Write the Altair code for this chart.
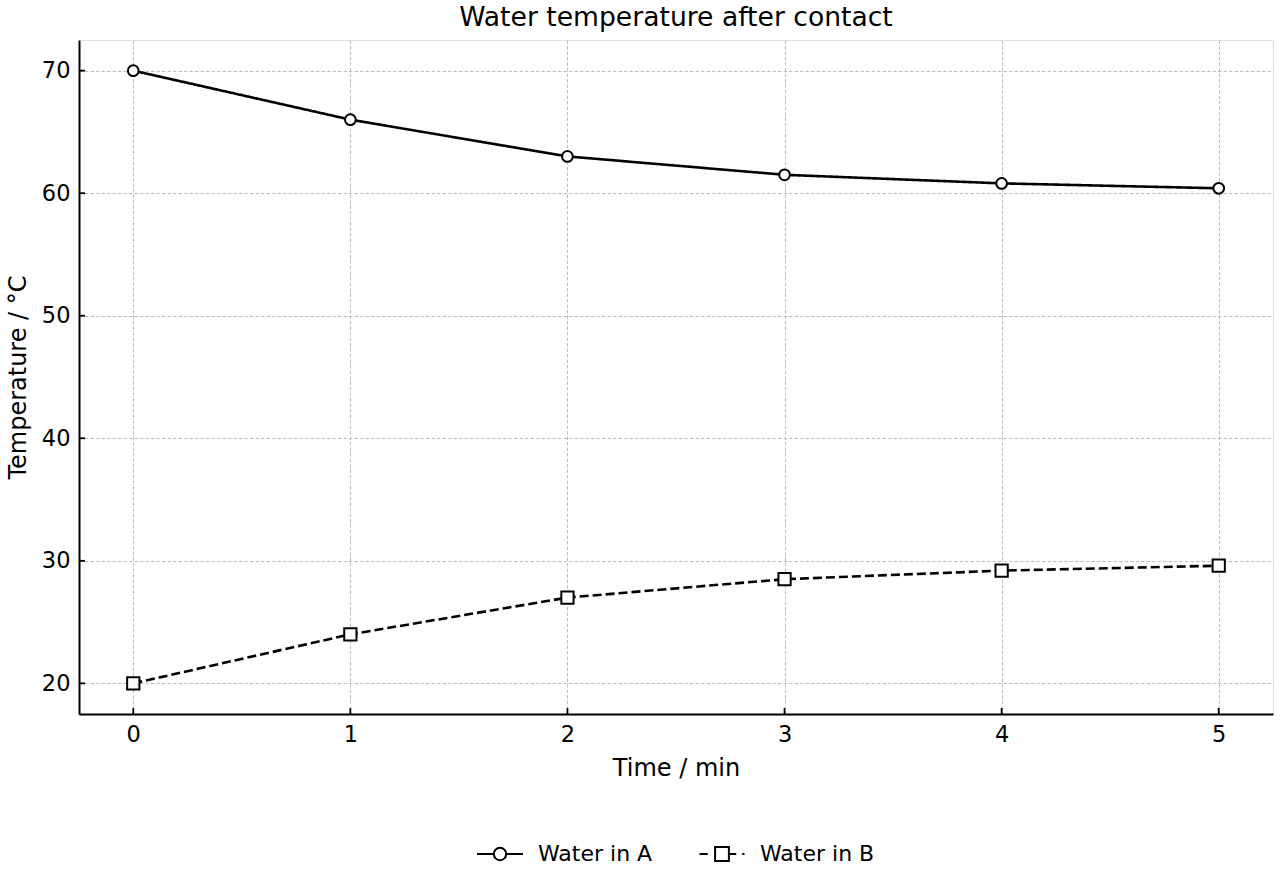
import altair as alt
import pandas as pd

# ---- data ----
time_min = [0, 1, 2, 3, 4, 5]
water_a = [70.0, 66.0, 63.0, 61.5, 60.8, 60.4]
water_b = [20.0, 24.0, 27.0, 28.5, 29.2, 29.6]
series_names = ["Water in A", "Water in B"]
x_ticks = [0, 1, 2, 3, 4, 5]
y_ticks = [20, 30, 40, 50, 60, 70]

rows = []
for t, a in zip(time_min, water_a):
    rows.append({"time": t, "temp": a, "series": series_names[0]})
for t, b in zip(time_min, water_b):
    rows.append({"time": t, "temp": b, "series": series_names[1]})
df = pd.DataFrame(rows)
xt_df = pd.DataFrame({"v": x_ticks})
yt_df = pd.DataFrame({"v": y_ticks})

W, H = 1194, 674
FONT = "DejaVu Sans"

xscale = alt.Scale(domain=[-0.25, 5.25], nice=False, zero=False)
yscale = alt.Scale(domain=[17.5, 72.5], nice=False, zero=False)

x_axis = alt.Axis(
    values=x_ticks, format="d", title="Time / min", grid=True, ticks=False, tickSize=0,
    labelFontSize=22.5, labelFont=FONT, labelColor="black", labelPadding=27,
    labelBaseline="alphabetic", titleFontSize=24, titleFont=FONT,
    titleFontWeight="normal", titleColor="black", titleBaseline="alphabetic",
    titleX=W / 2, titleY=61, titleAlign="center",
    domainColor="black", domainWidth=2, gridColor="#bdbdbd", gridDash=[3.5, 2],
    gridWidth=1,
)
y_axis = alt.Axis(
    values=y_ticks, format="d", title="Temperature / °C", grid=True, ticks=False, tickSize=0,
    labelFontSize=22.5, labelFont=FONT, labelColor="black", labelPadding=9,
    titleFontSize=24, titleFont=FONT, titleFontWeight="normal", titleColor="black",
    titleBaseline="alphabetic", titleAngle=270, titleX=-54, titleY=H / 2,
    titleAlign="center",
    domainColor="black", domainWidth=2, gridColor="#bdbdbd", gridDash=[3.5, 2],
    gridWidth=1,
)

base = alt.Chart(df)

lines = base.mark_line(color="black", strokeWidth=2.6).encode(
    x=alt.X("time:Q", scale=xscale, axis=x_axis),
    y=alt.Y("temp:Q", scale=yscale, axis=y_axis),
    detail="series:N",
    strokeDash=alt.StrokeDash(
        "series:N",
        scale=alt.Scale(domain=series_names, range=[[1, 0], [9, 4]]),
        legend=None,
    ),
)

points = base.mark_point(filled=True, fill="white", stroke="black", strokeWidth=2, opacity=1).encode(
    x=alt.X("time:Q", scale=xscale),
    y=alt.Y("temp:Q", scale=yscale),
    shape=alt.Shape(
        "series:N",
        scale=alt.Scale(domain=series_names, range=["circle", "square"]),
        legend=None,
    ),
    size=alt.Size(
        "series:N",
        scale=alt.Scale(domain=series_names, range=[115, 150]),
        legend=None,
    ),
)

xticks_layer = alt.Chart(xt_df).mark_rule(color="black", strokeWidth=1.8).encode(
    x=alt.X("v:Q", scale=xscale),
    y=alt.value(H - 6),
    y2=alt.value(H),
)
yticks_layer = alt.Chart(yt_df).mark_rule(color="black", strokeWidth=1.8).encode(
    y=alt.Y("v:Q", scale=yscale),
    x=alt.value(0),
    x2=alt.value(6),
)

path_a = ("M-1,0L-0.27,0M0.27,0L1,0"
          "M-0.27,0A0.27,0.27,0,1,1,0.27,0A0.27,0.27,0,1,1,-0.27,0Z")
path_b = ("M-0.98,0L-0.62,0"
          "M-0.3,-0.3L0.3,-0.3L0.3,0.3L-0.3,0.3Z"
          "M0.3,0L0.62,0M0.88,0L0.98,0")

legend_layer = base.transform_filter("false").mark_point(
    filled=False, stroke="black", strokeWidth=2, opacity=1, size=2116
).encode(
    x=alt.X("time:Q", scale=xscale),
    y=alt.Y("temp:Q", scale=yscale),
    shape=alt.Shape(
        "series:N",
        scale=alt.Scale(domain=series_names, range=[path_a, path_b]),
        legend=alt.Legend(
            title=None, orient="none", direction="horizontal",
            legendX=397, legendY=790,
            symbolSize=2116, symbolStrokeWidth=2, symbolStrokeColor="black",
            symbolOpacity=1,
            labelFontSize=22, labelFont=FONT, labelColor="black",
            labelOffset=14, columnPadding=42, padding=0,
        ),
    ),
)

chart = alt.layer(lines, points, xticks_layer, yticks_layer, legend_layer).resolve_scale(
    shape="independent"
).properties(
    width=W, height=H,
    title=alt.TitleParams(
        "Water temperature after contact", fontSize=26.6, font=FONT,
        fontWeight="normal", color="black", offset=8,
        anchor="middle", frame="group",
    ),
    padding={"left": 79, "top": 40, "right": 7, "bottom": 166},
    autosize=alt.AutoSizeParams(type="none"),
).configure_view(stroke=None).configure(background="white")

chart.save("out.html", embed_options={"renderer": "svg", "actions": False})
